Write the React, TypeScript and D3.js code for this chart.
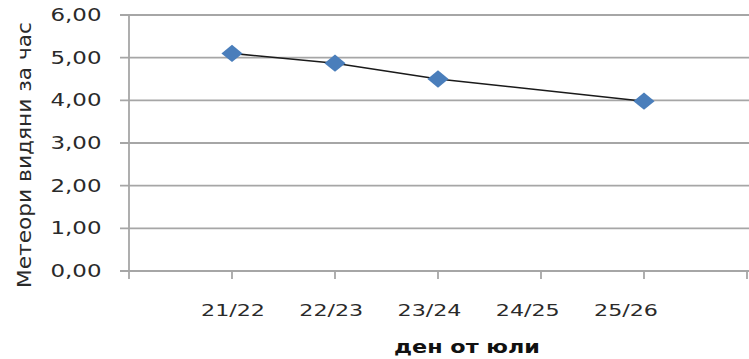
import React from "react";
import * as d3 from "d3";

const days = ["21/22", "22/23", "23/24", "24/25", "25/26"];
const meteors: (number | null)[] = [5.1, 4.87, 4.5, null, 3.98];
const yTicks = [0, 1, 2, 3, 4, 5, 6];
const yTitle = "Метеори видяни за час";
const xTitle = "ден от юли";

const W = 749;
const H = 359;

export default function App() {
  const x = d3.scaleLinear().domain([0, days.length + 1]).range([129, 747]);
  const xLabel = d3.scalePoint<string>().domain(days).range([233, 626]);
  const y = d3.scaleLinear().domain([0, 6]).range([271, 15]);
  const pts = days
    .map((d, i) => ({ d, i: i + 1, v: meteors[i] }))
    .filter((p) => p.v !== null) as { d: string; i: number; v: number }[];
  const line = d3
    .line<{ i: number; v: number }>()
    .x((p) => x(p.i))
    .y((p) => y(p.v));
  const fmt = (v: number) => v.toFixed(2).replace(".", ",");
  const square = d3.symbol(d3.symbolSquare, 150)()!;
  const font = "'DejaVu Sans', sans-serif";
  const txt = "#2a2a2a";
  const xTickVals = d3.range(0, days.length + 2);

  return (
    <svg
      width={W}
      height={H}
      style={{ position: "absolute", left: 0, top: 0, background: "#fff" }}
    >
      {yTicks.map((t) => (
        <g key={t}>
          <line x1={120} x2={749} y1={y(t)} y2={y(t)} stroke="#a6a6a6" strokeWidth={1.8} />
          <text
            x={76}
            y={y(t)}
            dy="0.36em"
            textAnchor="middle"
            fontFamily={font}
            fontSize={17}
            fill={txt}
            textLength={51}
            lengthAdjust="spacingAndGlyphs"
          >
            {fmt(t)}
          </text>
        </g>
      ))}
      <line x1={x(0)} x2={x(0)} y1={y(6)} y2={y(0)} stroke="#a6a6a6" strokeWidth={1.8} />
      {xTickVals.map((t) => (
        <line key={t} x1={x(t)} x2={x(t)} y1={y(0)} y2={y(0) + 8} stroke="#a6a6a6" strokeWidth={1.8} />
      ))}
      {days.map((d) => (
        <text
          key={d}
          x={xLabel(d)}
          y={310}
          dy="0.36em"
          textAnchor="middle"
          fontFamily={font}
          fontSize={16}
          fill={txt}
          textLength={64}
          lengthAdjust="spacingAndGlyphs"
        >
          {d}
        </text>
      ))}
      <path d={line(pts) ?? ""} fill="none" stroke="#1a1a1a" strokeWidth={1.6} />
      {pts.map((p) => (
        <path
          key={p.d}
          d={square}
          transform={`translate(${x(p.i)},${y(p.v)}) scale(1.22,1) rotate(45)`}
          fill="#4a7ebb"
        />
      ))}
      <text
        x={467}
        y={347}
        dy="0.36em"
        textAnchor="middle"
        fontFamily={font}
        fontSize={17}
        fontWeight="bold"
        fill="#111"
        textLength={146}
        lengthAdjust="spacingAndGlyphs"
      >
        {xTitle}
      </text>
      <text
        transform={`translate(24,155) rotate(-90)`}
        dy="0.36em"
        textAnchor="middle"
        fontFamily={font}
        fontSize={19}
        fill={txt}
        textLength={266}
        lengthAdjust="spacingAndGlyphs"
      >
        {yTitle}
      </text>
    </svg>
  );
}
